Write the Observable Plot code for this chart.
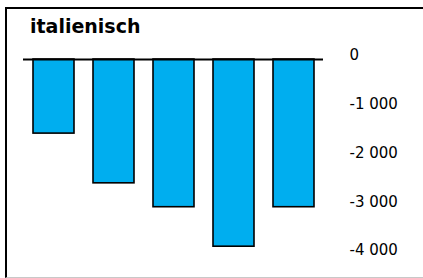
<!DOCTYPE html>
<html>
<head>
<meta charset="utf-8">
<script src="https://cdn.jsdelivr.net/npm/d3@7"></script>
<script src="https://cdn.jsdelivr.net/npm/@observablehq/plot@0.6"></script>
<style>
  html, body { margin: 0; padding: 0; background: #fff; }
  #wrap { position: relative; width: 423px; height: 278px; overflow: hidden; background: #fff; }
  #frame { position: absolute; left: 5px; top: 7px; width: 418px; height: 271px; box-sizing: border-box;
           border-top: 2px solid #000; border-left: 2px solid #000; border-bottom: 1px solid #c8c8c8; }
  #title { position: absolute; left: 30px; top: 14px; font-family: "DejaVu Sans", sans-serif; font-weight: bold;
           font-size: 19px; line-height: 24px; color: #000; white-space: nowrap; }
  #chart { position: absolute; left: 0; top: 0; }
</style>
</head>
<body>
<div id="wrap">
  <div id="frame"></div>
  <div id="chart"></div>
  <div id="title"></div>
</div>
<script>
const title = "italienisch";
const categories = ["1", "2", "3", "4", "5"];
const values = [-1520, -2540, -3030, -3840, -3030];
const yTicks = [0, -1000, -2000, -3000, -4000];

const data = categories.map((c, i) => ({cat: c, value: values[i]}));
const fmt = d => (d < 0 ? "-" : "") + d3.format(",")(Math.abs(d)).replace(/,/g, " ");

document.getElementById("title").textContent = title;

const chart = Plot.plot({
  width: 423,
  height: 278,
  marginTop: 59,
  marginBottom: 24,
  marginLeft: 23,
  marginRight: 100,
  style: {fontFamily: "DejaVu Sans, sans-serif", fontSize: "15px", background: "transparent", color: "#000"},
  x: {domain: categories, paddingInner: 0.32, paddingOuter: 0.14, axis: null},
  y: {domain: [-4000, 0], axis: null},
  marks: [
    Plot.barY(data, {x: "cat", y: "value", fill: "#00aeef", stroke: "#000", strokeWidth: 1.6}),
    Plot.ruleY([0], {stroke: "#000", strokeWidth: 2}),
    Plot.axisY(yTicks, {anchor: "right", label: null, tickSize: 0, tickPadding: 26, tickFormat: fmt, fontSize: 15, fill: "#000", dy: -4})
  ]
});
document.getElementById("chart").appendChild(chart);
</script>
</body>
</html>
